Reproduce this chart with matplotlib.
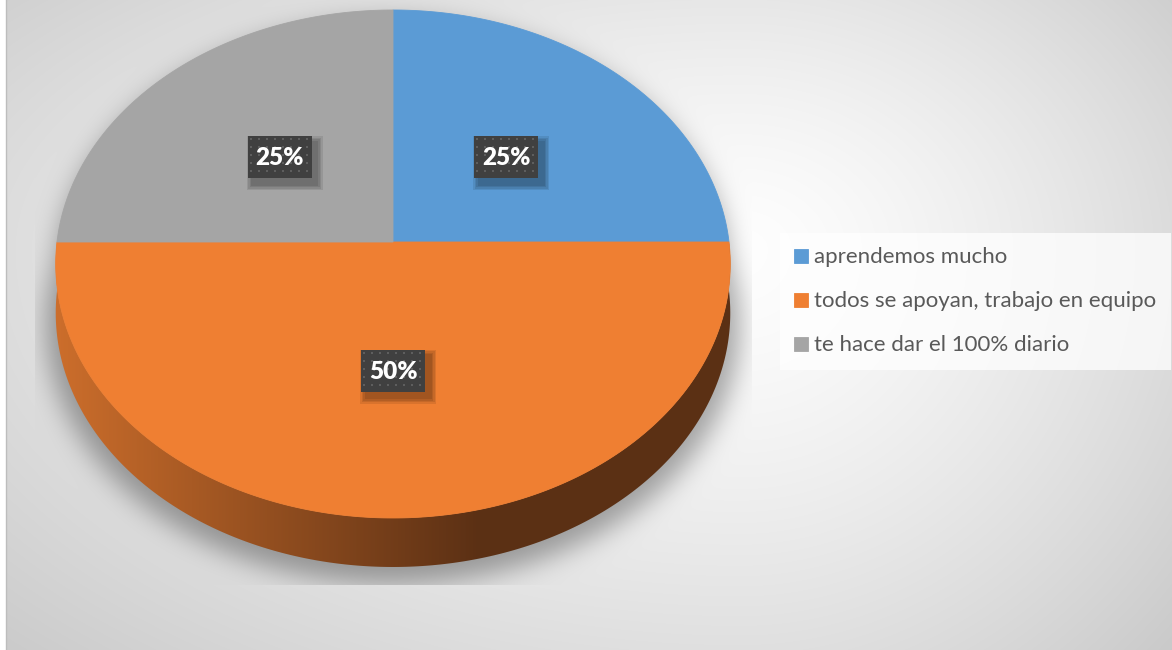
import numpy as np
import matplotlib
matplotlib.use('Agg')
import matplotlib.pyplot as plt
from matplotlib.patches import Polygon, Rectangle
from matplotlib.path import Path

# --- data ---
labels = ['aprendemos mucho', 'todos se apoyan, trabajo en equipo', 'te hace dar el 100% diario']
values = [25, 50, 25]
colors = ['#5B9BD5', '#EF7F32', '#A5A5A5']

W, H = 1172, 650

# perspective mapping of the unit disk onto the canvas (pixel coords)
CX, CY, RX = 393.0, 242.0, 336.0
EY, HP = -231.13, 0.0866
DEPTH = 49.0
LABEL_R = 0.49


def project(u, v, dy=0.0):
    w = 1 + HP * v
    return CX + RX * u / w, (EY * v + CY) / w + dy


def rim(t0, t1, n=300, scale=1.0, dy=0.0):
    t = np.linspace(t0, t1, n)
    x, y = project(scale * np.cos(t), scale * np.sin(t), dy)
    return np.column_stack([x, y])


def blur(a, s):
    ky = np.fft.fftfreq(a.shape[0])[:, None]
    kx = np.fft.fftfreq(a.shape[1])[None, :]
    g = np.exp(-2 * (np.pi * s) ** 2 * (ky ** 2 + kx ** 2))
    return np.real(np.fft.ifft2(np.fft.fft2(a) * g))


fig = plt.figure(figsize=(W / 100, H / 100), dpi=100)
ax = fig.add_axes([0, 0, 1, 1])
ax.set_xlim(0, W)
ax.set_ylim(H, 0)
ax.axis('off')

yy, xx = np.mgrid[0:H, 0:W] + 0.5

# background: soft light spot fading to grey
gcx, gcy = 740.0, 250.0
dx = np.where(xx < gcx, (gcx - xx) / 980.0, (xx - gcx) / 560.0)
dy = np.where(yy < gcy, (gcy - yy) / 430.0, (yy - gcy) / 560.0)
t = np.clip(np.sqrt(dx ** 2 + dy ** 2), 0, 1.15)
bg = 0.995 - 0.19 * t ** 1.4

# drop shadow under the disk, clipped to the plot area
sil = np.vstack([rim(0, np.pi, scale=1.0, dy=10), rim(np.pi, 2 * np.pi, scale=1.03, dy=DEPTH + 8)])
mask = Path(sil).contains_points(np.column_stack([xx.ravel(), yy.ravel()])).reshape(H, W)
shade = blur(mask.astype(float), 13) * 0.34
inside = (xx > 35) & (xx < 752) & (yy < 585)
bg = bg * (1 - np.where(inside, shade, 0))
bg[:, :6] = 1.0
img = np.dstack([bg, bg, bg])
ax.imshow(img, extent=(0, W, H, 0), zorder=0, interpolation='bilinear')
ax.plot([6, 6], [0, H], color='#bdbdbd', lw=1, zorder=0.5)

# slice angles: start at 12 o'clock, clockwise
fracs = np.array(values, float) / sum(values)
starts = 90 - 360 * np.concatenate([[0], np.cumsum(fracs)[:-1]])
ends = starts - 360 * fracs

# side wall gradient (lighter at left, dark brown at right)
c_left = np.array([0.80, 0.43, 0.17])
c_right = np.array([0.36, 0.19, 0.08])
k = np.clip((xx - 57) / 420.0, 0, 1)[..., None]
side_img = c_left * (1 - k) + c_right * k

handles = []
for a0, a1, col, lab in zip(starts, ends, colors, labels):
    lo, hi = max(a1, -180), min(a0, 0)
    if hi > lo:
        top = rim(np.radians(hi), np.radians(lo))
        bot = rim(np.radians(lo), np.radians(hi), dy=DEPTH)
        side = Polygon(np.vstack([top, bot]), closed=True, facecolor='none', edgecolor='none')
        ax.add_patch(side)
        im = ax.imshow(side_img, extent=(0, W, H, 0), zorder=1, interpolation='bilinear')
        im.set_clip_path(side)
    pts = np.vstack([[CX, CY], rim(np.radians(a0), np.radians(a1))])
    p = Polygon(pts, closed=True, facecolor=col, edgecolor=col, lw=0.6, zorder=2, label=lab)
    ax.add_patch(p)
    handles.append(p)

# data labels on dark patterned boxes
bw, bh = 64, 42
for a0, a1, v in zip(starts, ends, values):
    m = np.radians((a0 + a1) / 2)
    lx, ly = project(LABEL_R * np.cos(m), LABEL_R * np.sin(m))
    for i in range(4):
        g = 1.5 + i * 1.5
        ax.add_patch(Rectangle((lx - bw / 2 + 5 - g, ly - bh / 2 + 6 - g), bw + 2 * g, bh + 2 * g,
                               facecolor='black', edgecolor='none', alpha=0.09, zorder=3))
    box = Rectangle((lx - bw / 2, ly - bh / 2), bw, bh, facecolor='#404040', edgecolor='none', zorder=4)
    ax.add_patch(box)
    gx, gy = np.meshgrid(np.arange(lx - bw / 2 + 3, lx + bw / 2, 8), np.arange(ly - bh / 2 + 3, ly + bh / 2, 8))
    dots = ax.scatter(gx.ravel(), gy.ravel(), s=3.5, marker='s', color='#5e5e5e', lw=0, zorder=5)
    dots.set_clip_path(box)
    ax.text(lx, ly + 1, f'{v}%', color='white', fontsize=17.5, fontweight='heavy', family='Lato',
            ha='center', va='center', zorder=6)

leg = ax.legend(handles=handles, loc='upper left', bbox_to_anchor=(780 / W, 1 - 233 / H),
                bbox_transform=fig.transFigure, frameon=True, fancybox=False,
                prop={'family': 'Lato', 'size': 16.0}, labelcolor='#595959',
                handlelength=0.6, handleheight=0.6, handletextpad=0.3,
                labelspacing=1.08, borderpad=0.65, borderaxespad=0)
leg.get_frame().set_facecolor('white')
leg.get_frame().set_alpha(0.75)
leg.get_frame().set_edgecolor('none')
leg.set_zorder(7)

fig.savefig('out.png', dpi=100)
